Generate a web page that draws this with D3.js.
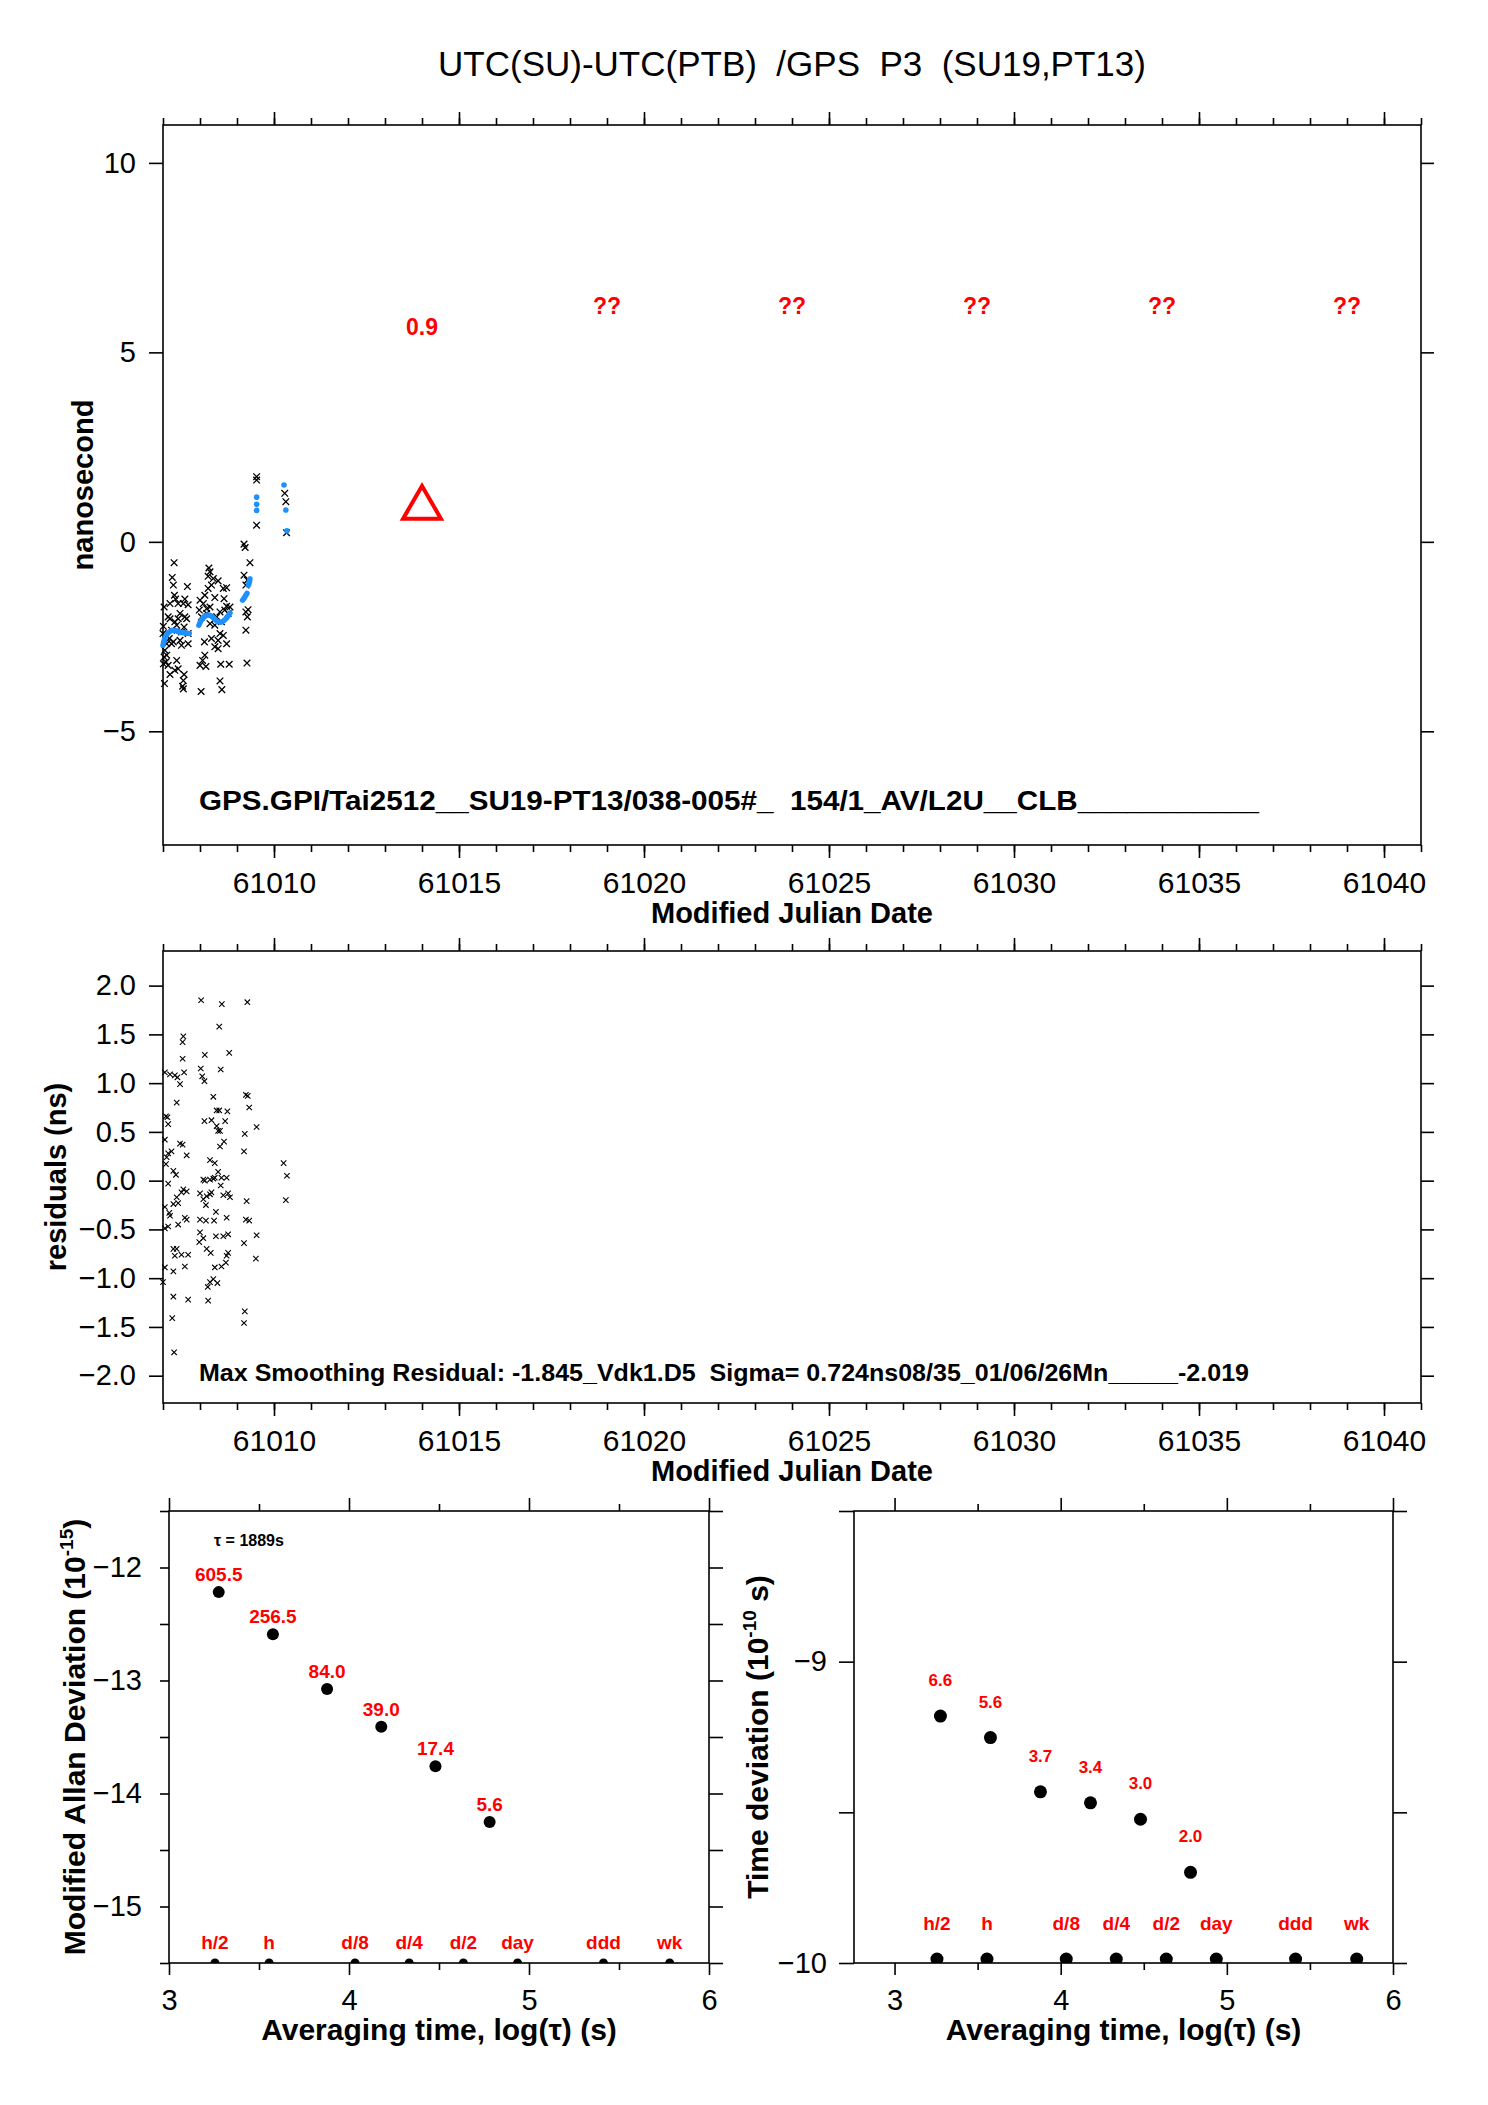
<!DOCTYPE html>
<html>
<head>
<meta charset="utf-8">
<script src="https://cdn.jsdelivr.net/npm/d3@7"></script>
<style>
  body { margin: 0; background: #fff; }
  svg text { font-family: "Liberation Sans", Arial, Helvetica, sans-serif; }
</style>
</head>
<body>
<svg id="chart" width="1488" height="2105"></svg>
<script>
// ---- data ----
const titleText = 'UTC(SU)-UTC(PTB)  /GPS  P3  (SU19,PT13)';
const infoText = 'GPS.GPI/Tai2512__SU19-PT13/038-005#_  154/1_AV/L2U__CLB___________';
const residText = 'Max Smoothing Residual: -1.845_Vdk1.D5  Sigma= 0.724ns08/35_01/06/26Mn_____-2.019';

const mjdMajor = [61010, 61015, 61020, 61025, 61030, 61035, 61040];
const nsTicks = [-5, 0, 5, 10];
const residTicks = [-2.0, -1.5, -1.0, -0.5, 0.0, 0.5, 1.0, 1.5, 2.0];

// [MJD, ns] raw GPS P3 differences
const obsPoints = [
  [61007.30,-0.55],[61007.25,-0.94],[61007.28,-1.14],[61007.66,-1.18],[61007.31,-1.41],[61007.34,-1.51],
  [61007.59,-1.51],[61007.19,-1.63],[61007.68,-1.66],[61007.03,-1.72],[61007.41,-1.63],[61007.55,-1.63],
  [61007.14,-1.98],[61007.19,-2.03],[61007.46,-1.89],[61007.59,-1.98],[61007.64,-2.03],[61007.32,-2.11],
  [61007.37,-2.20],[61007.57,-2.25],[61007.01,-2.23],[61007.23,-2.33],[61007.50,-2.38],[61007.68,-2.42],
  [61007.46,-2.60],[61007.10,-2.69],[61007.28,-2.64],[61007.50,-2.73],[61007.68,-2.69],[61007.05,-2.86],
  [61007.10,-2.99],[61007.08,-3.17],[61007.37,-3.13],[61007.01,-3.22],[61007.14,-3.26],[61007.32,-3.39],
  [61007.41,-3.35],[61007.19,-3.50],[61007.57,-3.50],[61007.55,-3.66],[61007.53,-3.81],[61007.55,-3.88],
  [61007.04,-3.74],[61007.00,-2.42],[61007.41,-2.03],[61007.17,-2.55],[61007.23,-2.69],[61007.03,-3.04],
  [61008.24,-0.69],[61008.27,-0.79],[61008.22,-0.91],[61008.36,-0.97],[61008.49,-1.03],[61008.31,-1.14],
  [61008.22,-1.23],[61008.72,-1.21],[61008.63,-1.23],[61008.13,-1.41],[61008.40,-1.47],[61008.65,-1.50],
  [61008.00,-1.54],[61008.09,-1.63],[61008.27,-1.72],[61008.18,-1.76],[61008.72,-1.70],[61008.81,-1.72],
  [61007.98,-1.80],[61008.04,-1.98],[61008.18,-1.89],[61008.45,-1.98],[61008.54,-1.85],[61008.67,-1.80],
  [61008.76,-1.89],[61008.27,-2.16],[61008.40,-2.20],[61008.58,-2.11],[61008.54,-2.42],[61008.63,-2.47],
  [61008.31,-2.55],[61008.49,-2.60],[61008.72,-2.69],[61008.12,-2.64],[61008.40,-2.77],[61008.49,-2.82],
  [61008.13,-2.99],[61008.07,-3.13],[61008.00,-3.26],[61008.16,-3.29],[61008.56,-3.23],[61008.79,-3.23],
  [61008.54,-3.67],[61008.59,-3.90],[61008.03,-3.95],
  [61009.19,-0.06],[61009.22,-0.15],[61009.35,-0.55],[61009.19,-0.88],[61009.28,-1.01],[61009.24,-1.14],
  [61009.30,-1.79],[61009.24,-1.85],[61009.28,-1.98],[61009.24,-2.33],[61009.27,-3.20],
  [61009.53,1.72],[61009.53,1.63],[61009.53,0.44],
  [61010.29,1.28],[61010.32,1.06],[61010.34,0.24]
];

// smoothed curve, continuous stretches and isolated values [MJD, ns]
const smoothSegments = [
  [[61007.00,-2.73],[61007.03,-2.60],[61007.08,-2.48],[61007.14,-2.40],[61007.21,-2.35],[61007.28,-2.33],
   [61007.35,-2.34],[61007.41,-2.37],[61007.48,-2.39],[61007.55,-2.39],[61007.62,-2.41],[61007.71,-2.42]],
  [[61007.97,-2.20],[61008.02,-2.09],[61008.09,-2.00],[61008.16,-1.95],[61008.22,-1.93],[61008.29,-1.95],
   [61008.36,-2.00],[61008.43,-2.07],[61008.49,-2.11],[61008.56,-2.12],[61008.63,-2.09],[61008.70,-2.03],
   [61008.76,-1.95],[61008.81,-1.88]],
  [[61009.15,-1.54],[61009.19,-1.49],[61009.22,-1.44],[61009.27,-1.36]],
  [[61009.31,-1.15],[61009.33,-1.07],[61009.35,-0.98]]
];
const smoothDots = [[61009.53,1.18],[61009.53,0.99],[61009.53,0.83],[61010.27,1.50],[61010.32,0.84],[61010.35,0.29]];

// 5-day block summaries
const blockMjd = [61014, 61019, 61024, 61029, 61034, 61039];
const blockLabel = ['0.9', '??', '??', '??', '??', '??'];
const triPoints = [[61014, 0.9]];

// [MJD, ns] residuals from smoothing
const residPoints = [
  [61008.03,1.85],[61008.59,1.81],[61009.28,1.83],[61008.52,1.58],[61007.55,1.48],[61007.53,1.42],
  [61008.13,1.29],[61008.79,1.31],[61007.53,1.25],[61008.02,1.15],[61008.06,1.07],[61008.56,1.14],
  [61007.05,1.11],[61007.19,1.09],[61007.32,1.08],[61007.57,1.11],[61007.39,1.06],[61007.46,0.99],
  [61008.12,1.02],[61008.36,0.86],[61009.24,0.88],[61009.29,0.87],[61009.33,0.75],[61007.37,0.80],
  [61008.45,0.72],[61008.52,0.72],[61008.74,0.71],[61007.08,0.66],[61007.12,0.65],[61007.14,0.58],
  [61008.31,0.62],[61008.68,0.61],[61008.12,0.61],[61008.45,0.56],[61008.49,0.51],[61008.54,0.51],
  [61009.53,0.55],[61009.21,0.48],[61007.05,0.42],[61007.46,0.38],[61007.53,0.37],[61008.65,0.40],
  [61008.54,0.35],[61007.23,0.30],[61007.14,0.28],[61007.10,0.24],[61007.64,0.26],[61009.19,0.30],
  [61008.27,0.21],[61008.40,0.18],[61007.08,0.17],[61007.28,0.10],[61007.35,0.06],[61008.49,0.09],
  [61010.26,0.18],[61010.35,0.05],[61008.09,0.01],[61008.13,0.00],[61008.27,0.01],[61008.36,0.02],
  [61008.40,0.03],[61008.58,0.03],[61008.72,0.03],[61008.56,-0.05],[61007.14,-0.03],[61007.55,-0.09],
  [61007.64,-0.11],[61007.50,-0.12],[61008.00,-0.13],[61008.18,-0.16],[61008.27,-0.14],[61008.31,-0.12],
  [61008.63,-0.15],[61008.81,-0.17],[61008.76,-0.13],[61008.09,-0.19],[61007.37,-0.17],[61007.41,-0.23],
  [61007.28,-0.24],[61007.05,-0.27],[61007.17,-0.33],[61008.16,-0.25],[61008.43,-0.32],[61009.26,-0.21],
  [61010.32,-0.20],[61007.19,-0.36],[61007.59,-0.38],[61007.64,-0.40],[61007.41,-0.45],[61008.00,-0.40],
  [61008.16,-0.41],[61008.38,-0.41],[61008.72,-0.38],[61009.24,-0.40],[61009.33,-0.41],[61007.14,-0.47],
  [61007.05,-0.49],[61008.00,-0.53],[61008.09,-0.59],[61007.98,-0.63],[61008.43,-0.57],[61008.63,-0.57],
  [61008.76,-0.55],[61009.53,-0.56],[61009.19,-0.64],[61007.28,-0.70],[61007.37,-0.70],[61007.32,-0.77],
  [61007.50,-0.76],[61007.68,-0.76],[61007.59,-0.88],[61007.05,-0.89],[61007.28,-0.93],[61008.18,-0.70],
  [61008.29,-0.74],[61008.72,-0.77],[61008.76,-0.74],[61008.70,-0.84],[61008.58,-0.88],[61008.40,-0.89],
  [61009.51,-0.80],[61008.36,-1.01],[61008.27,-1.04],[61008.21,-1.09],[61008.47,-1.05],[61007.00,-1.04],
  [61007.28,-1.19],[61007.68,-1.22],[61008.22,-1.23],[61009.21,-1.34],[61009.19,-1.46],[61007.25,-1.41],
  [61007.30,-1.76]
];

// stability: averaging times (s) and deviations
const tauSec = [1889, 3778, 7556, 15112, 30224, 60448];
const mdevVals = [605.5, 256.5, 84.0, 39.0, 17.4, 5.6];   // x 1e-15
const tdevVals = [6.6, 5.6, 3.7, 3.4, 3.0, 2.0];          // x 1e-10 s
const markNames = ['h/2', 'h', 'd/8', 'd/4', 'd/2', 'day', 'ddd', 'wk'];
const markSec = [1800, 3600, 10800, 21600, 43200, 86400, 259200, 604800];
const logTicks = [3, 4, 5, 6];
const logMinor = [3.5, 4.5, 5.5];

// ---- drawing ----
const FONT = '"Liberation Sans", Arial, Helvetica, sans-serif';
const RED = '#ff0000', BLUE = '#1e90ff';
const svg = d3.select('#chart');
svg.append('rect').attr('width', 1488).attr('height', 2105).attr('fill', '#fff');

function axisG(x, y, axis, fontSize) {
  const g = svg.append('g').attr('transform', `translate(${x},${y})`).call(axis);
  g.select('.domain').remove();
  g.selectAll('line').attr('stroke', '#000').attr('stroke-width', 1.6);
  g.selectAll('text').attr('font-family', FONT).attr('font-size', fontSize || 29).attr('fill', '#000');
  return g;
}

function frame(p) {
  svg.append('rect').attr('x', p.x0).attr('y', p.y0)
    .attr('width', p.x1 - p.x0).attr('height', p.y1 - p.y0)
    .attr('fill', 'none').attr('stroke', '#000').attr('stroke-width', 1.6);
}

function crossPath(a) { return `M${-a},${-a}L${a},${a}M${-a},${a}L${a},${-a}`; }

function mjdAxes(p, xs) {
  const minor = d3.range(xs.domain()[0], xs.domain()[1] + 1);
  axisG(0, p.y1, d3.axisBottom(xs).tickValues(minor).tickSize(7).tickFormat(''));
  axisG(0, p.y1, d3.axisBottom(xs).tickValues(mjdMajor).tickSize(13).tickPadding(14).tickFormat(d3.format('d')), 30);
  axisG(0, p.y0, d3.axisTop(xs).tickValues(minor).tickSize(7).tickFormat(''));
  axisG(0, p.y0, d3.axisTop(xs).tickValues(mjdMajor).tickSize(13).tickFormat(''));
  svg.append('text').attr('x', (p.x0 + p.x1) / 2).attr('y', p.y1 + 78)
    .attr('text-anchor', 'middle').attr('font-weight', 'bold').attr('font-size', 29)
    .text('Modified Julian Date');
}

// title
svg.append('text').attr('x', 792).attr('y', 76).attr('text-anchor', 'middle')
  .attr('font-size', 35).style('white-space', 'pre').text(titleText);

// ---- panel 1: time differences ----
const P1 = { x0: 163, x1: 1421, y0: 125, y1: 845 };
const x1s = d3.scaleLinear().domain([61007, 61041]).range([P1.x0, P1.x1]);
const y1s = d3.scaleLinear().domain([-8, 11]).range([P1.y1, P1.y0]);
frame(P1);
mjdAxes(P1, x1s);
axisG(P1.x0, 0, d3.axisLeft(y1s).tickValues(nsTicks).tickSize(14).tickPadding(13).tickFormat(d3.format('d')));
axisG(P1.x1, 0, d3.axisRight(y1s).tickValues(nsTicks).tickSize(13).tickFormat(''));
svg.append('text').attr('transform', `translate(93,${(P1.y0 + P1.y1) / 2}) rotate(-90)`)
  .attr('text-anchor', 'middle').attr('font-weight', 'bold').attr('font-size', 29).text('nanosecond');

svg.append('g').selectAll('path').data(obsPoints).join('path')
  .attr('transform', d => `translate(${x1s(d[0])},${y1s(d[1])})`)
  .attr('d', crossPath(3.3)).attr('stroke', '#000').attr('stroke-width', 1.3).attr('fill', 'none');

const smoothLine = d3.line().x(d => x1s(d[0])).y(d => y1s(d[1])).curve(d3.curveMonotoneX);
svg.append('g').selectAll('path').data(smoothSegments).join('path')
  .attr('d', smoothLine).attr('fill', 'none').attr('stroke', BLUE)
  .attr('stroke-width', 5.5).attr('stroke-linecap', 'round');
svg.append('g').selectAll('circle').data(smoothDots).join('circle')
  .attr('cx', d => x1s(d[0])).attr('cy', d => y1s(d[1])).attr('r', 2.8).attr('fill', BLUE);

svg.append('g').selectAll('path').data(triPoints).join('path')
  .attr('transform', d => `translate(${x1s(d[0])},${y1s(d[1])})`)
  .attr('d', d3.symbol(d3.symbolTriangle, 620)())
  .attr('fill', 'none').attr('stroke', RED).attr('stroke-width', 4);

svg.append('g').selectAll('text').data(blockMjd).join('text')
  .attr('x', d => x1s(d))
  .attr('y', (d, i) => y1s(blockLabel[i] === '??' ? 6.02 : 5.45))
  .attr('text-anchor', 'middle').attr('font-weight', 'bold').attr('font-size', 23)
  .attr('fill', RED).text((d, i) => blockLabel[i]);

svg.append('text').attr('x', 199).attr('y', 810).attr('font-weight', 'bold').attr('font-size', 27)
  .attr('textLength', 1060).attr('lengthAdjust', 'spacingAndGlyphs')
  .style('white-space', 'pre').text(infoText);

// ---- panel 2: residuals ----
const P2 = { x0: 163, x1: 1421, y0: 951, y1: 1403 };
const x2s = d3.scaleLinear().domain([61007, 61041]).range([P2.x0, P2.x1]);
const y2s = d3.scaleLinear().domain([-2.28, 2.355]).range([P2.y1, P2.y0]);
frame(P2);
mjdAxes(P2, x2s);
axisG(P2.x0, 0, d3.axisLeft(y2s).tickValues(residTicks).tickSize(14).tickPadding(13).tickFormat(d3.format('.1f')));
axisG(P2.x1, 0, d3.axisRight(y2s).tickValues(residTicks).tickSize(13).tickFormat(''));
svg.append('text').attr('transform', `translate(66,${(P2.y0 + P2.y1) / 2}) rotate(-90)`)
  .attr('text-anchor', 'middle').attr('font-weight', 'bold').attr('font-size', 29).text('residuals (ns)');

svg.append('g').selectAll('path').data(residPoints).join('path')
  .attr('transform', d => `translate(${x2s(d[0])},${y2s(d[1])})`)
  .attr('d', crossPath(2.7)).attr('stroke', '#000').attr('stroke-width', 1.1).attr('fill', 'none');

svg.append('text').attr('x', 199).attr('y', 1381).attr('font-weight', 'bold').attr('font-size', 24)
  .attr('textLength', 1050).attr('lengthAdjust', 'spacingAndGlyphs')
  .style('white-space', 'pre').text(residText);

// ---- panels 3 and 4: stability ----
function stabilityPanel(p, xDom, yDom, yTicks, yLabelTicks, leftTick, cfg) {
  const xs = d3.scaleLinear().domain(xDom).range([p.x0, p.x1]);
  const ys = d3.scaleLinear().domain(yDom).range([p.y1, p.y0]);
  frame(p);
  axisG(0, p.y1, d3.axisBottom(xs).tickValues(logMinor).tickSize(7).tickFormat(''));
  axisG(0, p.y1, d3.axisBottom(xs).tickValues(logTicks).tickSize(12).tickPadding(14).tickFormat(d3.format('d')));
  axisG(0, p.y0, d3.axisTop(xs).tickValues(logMinor).tickSize(7).tickFormat(''));
  axisG(0, p.y0, d3.axisTop(xs).tickValues(logTicks).tickSize(13).tickFormat(''));
  axisG(p.x0, 0, d3.axisLeft(ys).tickValues(yTicks).tickSize(leftTick).tickPadding(27 - leftTick)
    .tickFormat(d => yLabelTicks.includes(d) ? d3.format('d')(d) : ''));
  axisG(p.x1, 0, d3.axisRight(ys).tickValues(yTicks).tickSize(14).tickFormat(''));

  const clipId = 'clip' + p.x0;
  svg.append('clipPath').attr('id', clipId).append('rect')
    .attr('x', p.x0).attr('y', p.y0).attr('width', p.x1 - p.x0).attr('height', p.y1 - p.y0);

  const pts = tauSec.map((t, i) => [Math.log10(t), Math.log10(cfg.vals[i] * cfg.unit), cfg.vals[i]]);
  svg.append('g').selectAll('circle').data(pts).join('circle')
    .attr('cx', d => xs(d[0])).attr('cy', d => ys(d[1])).attr('r', cfg.r).attr('fill', '#000');
  svg.append('g').selectAll('text').data(pts).join('text')
    .attr('x', d => xs(d[0])).attr('y', d => ys(d[1]) - cfg.labelGap)
    .attr('text-anchor', 'middle').attr('font-weight', 'bold').attr('font-size', cfg.labelSize)
    .attr('fill', RED).text(d => d3.format('.1f')(d[2]));

  const marks = markSec.map((s, i) => [Math.log10(s), markNames[i]]);
  svg.append('g').attr('clip-path', `url(#${clipId})`).selectAll('circle').data(marks).join('circle')
    .attr('cx', d => xs(d[0])).attr('cy', ys(yDom[0]) - cfg.markLift).attr('r', cfg.markR).attr('fill', '#000');
  svg.append('g').selectAll('text').data(marks).join('text')
    .attr('x', d => xs(d[0])).attr('y', ys(yDom[0]) - cfg.markGap)
    .attr('text-anchor', 'middle').attr('font-weight', 'bold').attr('font-size', 19)
    .attr('fill', RED).text(d => d[1]);

  svg.append('text').attr('x', (p.x0 + p.x1) / 2).attr('y', p.y1 + 77)
    .attr('text-anchor', 'middle').attr('font-weight', 'bold').attr('font-size', 30)
    .text('Averaging time, log(\u03c4) (s)');

  const yt = svg.append('text').attr('transform', `translate(${cfg.titleX},${(p.y0 + p.y1) / 2}) rotate(-90)`)
    .attr('text-anchor', 'middle').attr('font-weight', 'bold').attr('font-size', 30);
  yt.append('tspan').text(cfg.title[0]);
  yt.append('tspan').attr('font-size', 19).attr('dy', -12).text(cfg.title[1]);
  yt.append('tspan').attr('dy', 12).text(cfg.title[2]);
  return xs;
}

const P3 = { x0: 169, x1: 709, y0: 1511, y1: 1963 };
stabilityPanel(P3, [3, 6], [-15.5, -11.5], d3.range(-15.5, -11.4, 0.5), [-15, -14, -13, -12], 9, {
  vals: mdevVals, unit: 1e-15, r: 6, labelGap: 11, labelSize: 19,
  markR: 4.5, markLift: 0, markGap: 14,
  titleX: 85, title: ['Modified Allan Deviation (10', '-15', ')']
});
svg.append('text').attr('x', 214).attr('y', 1546).attr('font-weight', 'bold').attr('font-size', 16)
  .text('\u03c4 = 1889s');

const P4 = { x0: 854, x1: 1393, y0: 1511, y1: 1963 };
stabilityPanel(P4, [2.756, 6], [-10, -8.5], [-10, -9.5, -9, -8.5], [-10, -9], 15, {
  vals: tdevVals, unit: 1e-10, r: 6.5, labelGap: 30, labelSize: 17,
  markR: 6.5, markLift: 4, markGap: 33,
  titleX: 768, title: ['Time deviation (10', '-10', ' s)']
});
</script>
</body>
</html>
